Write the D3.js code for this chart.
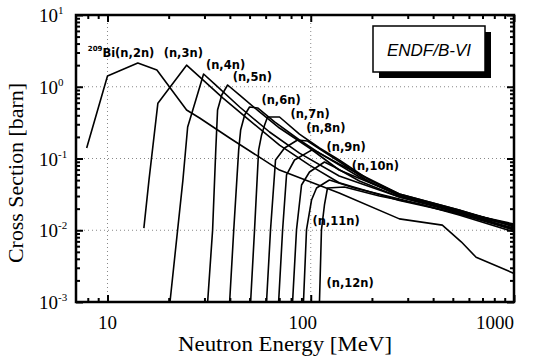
<!DOCTYPE html>
<html><head><meta charset="utf-8">
<script src="https://cdn.jsdelivr.net/npm/d3@7"></script>
<style>body{margin:0;background:#fff} svg{display:block}</style>
</head><body><svg id="c" width="539" height="362"></svg>
<script>
// ---- data: [energy MeV, cross section barn] ----
const n2n  = [[7.9,0.14],[10,1.41],[14.1,2.14],[17.5,1.71],[24.5,0.474],[28.4,0.367],[39.9,0.193],[70.2,0.069],[138,0.033],[273,0.0144],[444,0.0118],[550,0.0069],[651,0.0042],[1000,0.0025]];
const n3n  = [[15.1,0.0107],[16.0,0.050],[17.7,0.59],[24.5,2.0],[28.4,1.37],[36.9,0.70],[50,0.34],[70.2,0.154],[98.6,0.081],[138,0.046],[273,0.026],[537,0.017],[1000,0.0107]];
const n4n  = [[20.3,0.001],[23.5,0.050],[24.8,0.275],[27.2,0.653],[29.7,1.505],[33.7,1.09],[44.7,0.522],[62.7,0.234],[88,0.119],[138,0.057],[273,0.0291],[537,0.018],[1000,0.0101]];
const n5n  = [[31.1,0.001],[32.9,0.0101],[34.1,0.131],[34.8,0.474],[36.5,0.767],[39.0,1.058],[44.7,0.767],[56,0.445],[70.2,0.266],[98.6,0.140],[138,0.0691],[273,0.031],[537,0.0185],[1000,0.0104]];
const n6n  = [[39.9,0.001],[41.8,0.0101],[44.2,0.131],[45.2,0.249],[47.3,0.404],[50,0.522],[54.8,0.506],[66.4,0.323],[88,0.181],[110.4,0.119],[138,0.0838],[273,0.032],[537,0.0191],[1000,0.0111]];
const n7n  = [[50.6,0.001],[52.9,0.0101],[55.4,0.131],[57.3,0.213],[59.3,0.293],[61.3,0.379],[70.2,0.379],[88,0.219],[110.4,0.140],[138,0.0953],[194,0.0502],[273,0.032],[537,0.0191],[1000,0.0115]];
const n8n  = [[60.6,0.001],[63.4,0.0101],[67.1,0.0953],[74.3,0.140],[86.1,0.181],[96.4,0.175],[116.8,0.123],[146.5,0.0811],[194,0.047],[273,0.031],[537,0.0185],[1000,0.0118]];
const n9n  = [[69.5,0.001],[72.7,0.0101],[76.0,0.0589],[83.2,0.0953],[100.9,0.131],[108,0.123],[130.8,0.0894],[173.5,0.0552],[273,0.030],[537,0.018],[1000,0.0122]];
const n10n = [[81.4,0.001],[85.1,0.0101],[90.1,0.0427],[98.6,0.0648],[116.8,0.0894],[130.8,0.0761],[173.5,0.0486],[273,0.0291],[537,0.0174],[1000,0.0115]];
const n11n = [[92.1,0.001],[95.3,0.0101],[100.9,0.0264],[106.8,0.0388],[123.6,0.0502],[164,0.0388],[273,0.0273],[537,0.0168],[1000,0.0101]];
const n12n = [[110.4,0.001],[112.9,0.0101],[116.8,0.0225],[120.9,0.0388],[146.5,0.0401],[217.6,0.030],[342,0.0232],[537,0.0163],[1000,0.0095]];

const series = [n2n,n3n,n4n,n5n,n6n,n7n,n8n,n9n,n10n,n11n,n12n];
const reactionLabels = ["(n,2n)","(n,3n)","(n,4n)","(n,5n)","(n,6n)","(n,7n)","(n,8n)","(n,9n)","(n,10n)","(n,11n)","(n,12n)"];
const targetNucleus = ["209","Bi"];
// label anchors in data units [energy, cross section]
const labelAnchors = [[8.0,2.6],[18.9,2.6],[30.5,1.77],[41.3,1.2],[57.2,0.575],[79.4,0.367],[95.1,0.234],[119.5,0.127],[159,0.069],[101.9,0.0118],[119.5,0.0016]];

const xTickValues = [10,100,1000];
const xTickLabels = ["10","100","1000"];
const yTickValues = [1e-3,1e-2,1e-1,1,10];
const yTickExponents = ["-3","-2","-1","0","1"];
const legendText = "ENDF/B-VI";
const xTitle = "Neutron Energy [MeV]";
const yTitle = "Cross Section [barn]";

// ---- layout ----
const m = {l:76, r:514, t:15, b:302};
const x = d3.scaleLog().domain([7,1000]).range([m.l,m.r]);
const y = d3.scaleLog().domain([1e-3,10]).range([m.b,m.t]);
const svg = d3.select("#c");

// grid
const gridX=[10,100], gridY=[1,0.1,0.01];
svg.append("g").selectAll("line").data(gridX).join("line")
  .attr("x1",d=>x(d)).attr("x2",d=>x(d)).attr("y1",m.t).attr("y2",m.b)
  .attr("stroke","#888").attr("stroke-width",1).attr("stroke-dasharray","1,3");
svg.append("g").selectAll("line").data(gridY).join("line")
  .attr("y1",d=>y(d)).attr("y2",d=>y(d)).attr("x1",m.l).attr("x2",m.r)
  .attr("stroke","#888").attr("stroke-width",1).attr("stroke-dasharray","1,3");

// minor tick values
const xMinor=[]; [1,10,100].forEach(d=>{for(let k=2;k<=9;k++){const v=k*d; if(v>7&&v<1000) xMinor.push(v);}});
const yMinor=[]; [1e-3,1e-2,1e-1,1].forEach(d=>{for(let k=2;k<=9;k++) yMinor.push(k*d);});

function axisG(gen, tr){
  const g=svg.append("g").attr("transform",tr).call(gen);
  g.select(".domain").remove();
  g.selectAll("line").attr("stroke","#000").attr("stroke-width",2);
  g.selectAll("text").remove();
  return g;
}
axisG(d3.axisBottom(x).tickValues(xTickValues).tickSize(-7),`translate(0,${m.b})`);
axisG(d3.axisBottom(x).tickValues(xMinor).tickSize(-4),`translate(0,${m.b})`);
axisG(d3.axisTop(x).tickValues(xTickValues).tickSize(-7),`translate(0,${m.t})`);
axisG(d3.axisTop(x).tickValues(xMinor).tickSize(-4),`translate(0,${m.t})`);
axisG(d3.axisLeft(y).tickValues(yTickValues).tickSize(-7),`translate(${m.l},0)`);
axisG(d3.axisLeft(y).tickValues(yMinor).tickSize(-4),`translate(${m.l},0)`);
axisG(d3.axisRight(y).tickValues(yTickValues).tickSize(-7),`translate(${m.r},0)`);
axisG(d3.axisRight(y).tickValues(yMinor).tickSize(-4),`translate(${m.r},0)`);

// curves
const line = d3.line().x(d=>x(d[0])).y(d=>y(d[1]));
svg.append("g").selectAll("path").data(series).join("path")
  .attr("d",line).attr("fill","none").attr("stroke","#000").attr("stroke-width",1.6)
  .attr("stroke-linejoin","round");

// frame
svg.append("rect").attr("x",m.l).attr("y",m.t).attr("width",m.r-m.l).attr("height",m.b-m.t)
  .attr("fill","none").attr("stroke","#000").attr("stroke-width",2.5);

// reaction labels
const lab = svg.append("g").attr("font-family","'DejaVu Sans', Verdana, sans-serif")
  .attr("font-weight","bold").attr("font-size",11.5).attr("fill","#000");
reactionLabels.forEach((t,i)=>{
  const tx = lab.append("text").attr("x",x(labelAnchors[i][0])).attr("y",y(labelAnchors[i][1]));
  if(i===0){
    tx.append("tspan").attr("font-size",7).attr("dy",-6).text(targetNucleus[0]);
    tx.append("tspan").attr("dy",6).text(targetNucleus[1]+t);
  } else tx.text(t);
});

// x tick labels
const xLabShift=[0,-8,-19];
svg.append("g").selectAll("text").data(xTickValues).join("text")
  .attr("x",(d,i)=>x(d)+xLabShift[i]).attr("y",329).attr("text-anchor","middle")
  .attr("font-family","'Liberation Serif','Times New Roman',serif").attr("font-size",19)
  .text((d,i)=>xTickLabels[i]);

// y tick labels
const yl = svg.append("g").attr("font-family","'Liberation Serif','Times New Roman',serif");
yTickValues.forEach((v,i)=>{
  const t=yl.append("text").attr("x",39).attr("y",y(v)+7).attr("font-size",19);
  t.append("tspan").text("10");
  t.append("tspan").attr("font-size",11).attr("dy",-8).text(yTickExponents[i]);
});

// axis titles
svg.append("text").attr("x",285).attr("y",351).attr("text-anchor","middle")
  .attr("font-family","'Liberation Serif','Times New Roman',serif").attr("font-size",20)
  .attr("textLength",214).attr("lengthAdjust","spacingAndGlyphs").text(xTitle);
svg.append("text").attr("transform","translate(23,173) rotate(-90)").attr("text-anchor","middle")
  .attr("font-family","'Liberation Serif','Times New Roman',serif").attr("font-size",20)
  .attr("textLength",180).attr("lengthAdjust","spacingAndGlyphs").text(yTitle);

// legend box
svg.append("rect").attr("x",379).attr("y",32).attr("width",112).attr("height",46).attr("fill","#000");
svg.append("rect").attr("x",373).attr("y",26).attr("width",112).attr("height",46)
  .attr("fill","#fff").attr("stroke","#000").attr("stroke-width",1.5);
svg.append("text").attr("x",429).attr("y",56).attr("text-anchor","middle")
  .attr("font-family","'Liberation Sans',Arial,sans-serif").attr("font-style","italic")
  .attr("font-size",17).text(legendText);
</script></body></html>
